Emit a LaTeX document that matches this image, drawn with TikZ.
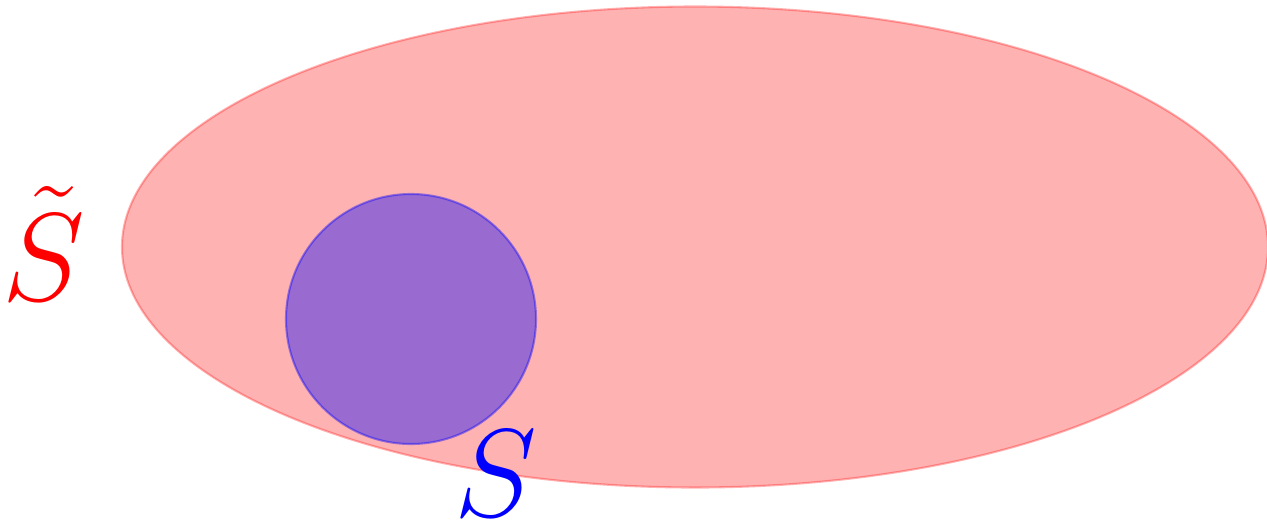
\documentclass[tikz,border=0pt]{standalone}
\usepackage{amsmath,amssymb}
\usepackage{xcolor}
\usepackage{tikz}
\tikzset{
  bigset/.style={fill=red,draw=red,opacity=0.3,line width=0.6pt},
  subset/.style={fill=blue,draw=blue,opacity=0.4,line width=0.6pt},
  setlbl/.style={font=\Huge,scale=1.43,inner sep=0pt,anchor=base}
}

\begin{document}
\begin{tikzpicture}
\useasboundingbox (0,0) rectangle (12.67,5.24);
\draw[bigset] (6.95,2.77) ellipse [x radius=5.73,y radius=2.405];
\draw[subset] (4.11,2.05) circle [radius=1.25];
\node[setlbl,text=red] (stilde) at (0.44,2.24) {$\tilde{S}$};
\node[setlbl,text=blue] (s) at (4.96,0.08) {$S$};
\end{tikzpicture}
\end{document}
